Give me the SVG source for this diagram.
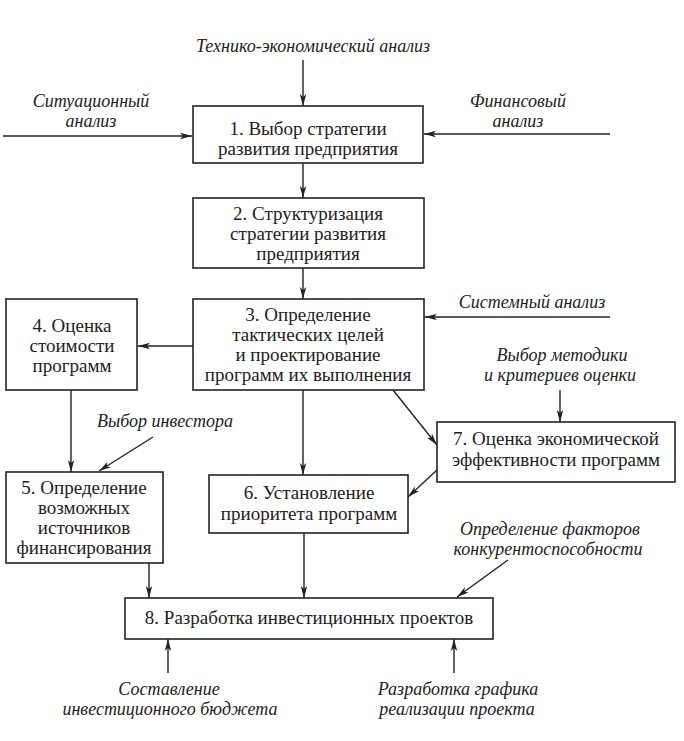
<svg xmlns="http://www.w3.org/2000/svg" width="684" height="741" viewBox="0 0 684 741">
<defs>
<marker id="ah" viewBox="0 0 12 8" refX="12" refY="4" markerWidth="12" markerHeight="8" markerUnits="userSpaceOnUse" orient="auto">
<path d="M0,0.8 L12,4 L0,7.2 L3,4 Z" fill="#222"/>
</marker>
<style>
.box{fill:#fff;stroke:#222;stroke-width:1.6}
.t{font-family:"Liberation Serif","DejaVu Serif",serif;font-size:19px;fill:#222;text-anchor:middle}
.i{font-family:"Liberation Serif","DejaVu Serif",serif;font-style:italic;font-size:18px;fill:#222;text-anchor:middle}
.c{fill:none;stroke:#222;stroke-width:1.4;marker-end:url(#ah)}
</style>
</defs>
<rect width="684" height="741" fill="#fff"/>
<g id="connectors">
<line class="c" x1="303" y1="60" x2="303" y2="106"/>
<line class="c" x1="3" y1="136" x2="192" y2="136"/>
<line class="c" x1="610" y1="134" x2="424" y2="134"/>
<line class="c" x1="303" y1="163" x2="303" y2="198"/>
<line class="c" x1="303" y1="268" x2="303" y2="299"/>
<line class="c" x1="610" y1="317" x2="425" y2="317"/>
<line class="c" x1="193" y1="346" x2="138" y2="346"/>
<line class="c" x1="71" y1="390" x2="71" y2="472"/>
<line class="c" x1="153" y1="437" x2="99" y2="471"/>
<line class="c" x1="303" y1="390" x2="303" y2="475"/>
<line class="c" x1="393" y1="390" x2="437" y2="445"/>
<line class="c" x1="560" y1="390" x2="560" y2="422"/>
<line class="c" x1="437" y1="470" x2="408" y2="497"/>
<line class="c" x1="149" y1="563" x2="149" y2="598"/>
<line class="c" x1="304" y1="533" x2="304" y2="598"/>
<line class="c" x1="508" y1="560" x2="457" y2="597"/>
<line class="c" x1="168" y1="673" x2="168" y2="639"/>
<line class="c" x1="454" y1="673" x2="454" y2="639"/>
</g>
<g id="labels">
<text class="i" x="313" y="52">Технико-экономический анализ</text>
<text class="i" x="91" y="107">Ситуационный</text>
<text class="i" x="91" y="127">анализ</text>
<text class="i" x="518" y="107">Финансовый</text>
<text class="i" x="518" y="127">анализ</text>
<text class="i" x="532" y="308">Системный анализ</text>
<text class="i" x="562" y="361">Выбор методики</text>
<text class="i" x="560" y="381">и критериев оценки</text>
<text class="i" x="165" y="427">Выбор инвестора</text>
<text class="i" x="550" y="535">Определение факторов</text>
<text class="i" x="548" y="555">конкурентоспособности</text>
<text class="i" x="169" y="695">Составление</text>
<text class="i" x="170" y="715">инвестиционного бюджета</text>
<text class="i" x="458" y="695">Разработка графика</text>
<text class="i" x="457" y="715">реализации проекта</text>
</g>
<g id="node1">
<rect class="box" x="193" y="106" width="230" height="57"/>
<text class="t" x="308" y="135">1. Выбор стратегии</text>
<text class="t" x="308" y="155">развития предприятия</text>
</g>
<g id="node2">
<rect class="box" x="193" y="198" width="231" height="70"/>
<text class="t" x="308" y="220">2. Структуризация</text>
<text class="t" x="308" y="240">стратегии развития</text>
<text class="t" x="308" y="260">предприятия</text>
</g>
<g id="node3">
<rect class="box" x="193" y="299" width="231" height="91"/>
<text class="t" x="308" y="321">3. Определение</text>
<text class="t" x="308" y="341">тактических целей</text>
<text class="t" x="308" y="361">и проектирование</text>
<text class="t" x="308" y="381">программ их выполнения</text>
</g>
<g id="node4">
<rect class="box" x="6" y="299" width="131" height="91"/>
<text class="t" x="72" y="332">4. Оценка</text>
<text class="t" x="72" y="352">стоимости</text>
<text class="t" x="72" y="372">программ</text>
</g>
<g id="node5">
<rect class="box" x="6" y="472" width="157" height="91"/>
<text class="t" x="84" y="494">5. Определение</text>
<text class="t" x="84" y="514">возможных</text>
<text class="t" x="84" y="534">источников</text>
<text class="t" x="84" y="554">финансирования</text>
</g>
<g id="node6">
<rect class="box" x="209" y="475" width="199" height="58"/>
<text class="t" x="309" y="499">6. Установление</text>
<text class="t" x="309" y="520">приоритета программ</text>
</g>
<g id="node7">
<rect class="box" x="437" y="422" width="238" height="60"/>
<text class="t" x="556" y="445">7. Оценка экономической</text>
<text class="t" x="556" y="466">эффективности программ</text>
</g>
<g id="node8">
<rect class="box" x="125" y="598" width="368" height="41"/>
<text class="t" x="309" y="624">8. Разработка инвестиционных проектов</text>
</g>
</svg>
